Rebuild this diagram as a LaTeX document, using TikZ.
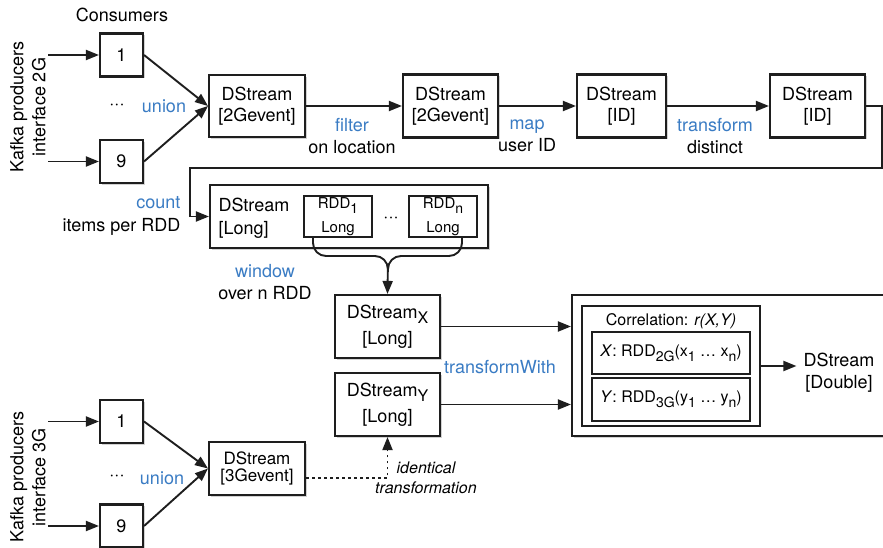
\documentclass[tikz,border=0pt]{standalone}
\usepackage{fontspec}
\setmainfont{TeX Gyre Heros}
\usepackage{xcolor}
\usepackage{tikz}
\usetikzlibrary{shapes, arrows.meta, shadows}
\definecolor{opblue}{RGB}{58,124,196}
\definecolor{edge}{RGB}{30,30,30}
\tikzstyle{stream} = [rectangle, draw=edge, line width=2.1pt, fill=white, align=center, inner sep=0pt,
    drop shadow={shadow xshift=1.8pt, shadow yshift=-1.8pt, opacity=0.35}, font=\fontsize{18}{21}\selectfont]
\tikzstyle{consumer} = [stream, minimum width=43pt, minimum height=43pt]
\tikzstyle{rdd} = [rectangle, draw=edge, line width=1.5pt, fill=white, align=center, inner sep=0pt, font=\fontsize{15}{24}\selectfont]
\tikzstyle{arrow} = [line width=1.9pt, draw=edge, -{Triangle[length=13pt,width=10pt]}]
\tikzstyle{link} = [line width=1.9pt, draw=edge]
\tikzstyle{op} = [align=center, font=\fontsize{18}{22}\selectfont]
\newcommand{\opname}[1]{\textcolor{opblue}{#1}}
\newcommand{\lowsub}[2][14]{\raisebox{-5pt}{\fontsize{#1}{#1}\selectfont #2}}

\begin{document}
\begin{tikzpicture}[x=1pt, y=-1pt]
\fill [white] (0,0) rectangle (883,548);
\useasboundingbox (0,0) rectangle (883,548);

% 2G input
\node (cons) [op] at (122,15) {Consumers};
\node (kafka2g) [op, rotate=90] at (28,107) {Kafka producers\\interface 2G};
\node (c2g1) [consumer] at (121.5,55) {1};
\node (c2g9) [consumer] at (121.5,161.5) {9};
\node (dots2g) [op] at (117,107) {···};
\node (union2g) [op, text=opblue] at (164,106) {union};
\coordinate (p2g1) at (48,55);
\coordinate (p2g9) at (48,161.5);

\node (ds2g) [stream, minimum width=96pt, minimum height=62pt] at (257,106) {DStream\\{[2Gevent]}};
\node (ds2gf) [stream, minimum width=95pt, minimum height=63pt] at (450.5,106) {DStream\\{[2Gevent]}};
\node (dsid) [stream, minimum width=89pt, minimum height=63pt] at (621.5,106) {DStream\\{[ID]}};
\node (dsdist) [stream, minimum width=95pt, minimum height=63pt] at (817.5,106) {DStream\\{[ID]}};

\node (filter) [op] at (352,136) {\opname{filter}\\on location};
\node (map) [op] at (527,136) {\opname{map}\\user ID};
\node (transf) [op] at (715,136) {\opname{transform}\\distinct};

\draw [arrow] (p2g1) -- (c2g1);
\draw [arrow] (p2g9) -- (c2g9);
\draw [arrow] (c2g1.east) -- (ds2g.west);
\draw [arrow] (c2g9.east) -- (ds2g.west);
\draw [arrow] (ds2g) -- (ds2gf);
\draw [arrow] (ds2gf) -- (dsid);
\draw [arrow] (dsid) -- (dsdist);

% counting and windowing
\node (dscount) [stream, minimum width=278pt, minimum height=63pt] at (349,216.5) {};
\node (countlbl) [anchor=west, align=left, font=\fontsize{18}{23}\selectfont] at (215,218) {DStream\\{[Long]}};
\node (rdd1) [rdd, minimum width=68pt, minimum height=41pt] at (338,216.5) {RDD\lowsub[14]{1}\\Long};
\node (rdddots) [op] at (391,220) {···};
\node (rddn) [rdd, minimum width=68pt, minimum height=41pt] at (443,216.5) {RDD\lowsub[14]{n}\\Long};
\node (countop) [op, anchor=east, align=right, font=\fontsize{18}{23}\selectfont] at (184,216) {\opname{count}\\items per RDD};

\coordinate (turn1) at (882,168);
\coordinate (turn2) at (190,168);
\draw [arrow] (dsdist.east) -| (turn1) -- (turn2) |- (dscount.west);

\node (dsx) [stream, minimum width=105pt, minimum height=63pt, font=\fontsize{18}{26}\selectfont] at (387.5,326.5) {DStream\lowsub[16]{X}\\{[Long]}};
\node (dsy) [stream, minimum width=105pt, minimum height=63pt, font=\fontsize{18}{26}\selectfont] at (387.5,404.5) {DStream\lowsub[16]{Y}\\{[Long]}};
\node (window) [op] at (265,282) {\opname{window}\\over n RDD};

\coordinate (brl) at (313,237);
\coordinate (brr) at (462,237);
\coordinate (brm) at (388,256);
\coordinate (brc) at (388,272);
\draw [link, rounded corners=13pt] (brr) |- (brm) -- (brc);
\draw [arrow, rounded corners=13pt] (brl) |- (brm) -- (dsx.north);

% correlation
\node (corrbox) [stream, minimum width=330pt, minimum height=141pt] at (737,365.5) {};
\node (corr) [rdd, minimum width=178pt, minimum height=120pt] at (671,366) {};
\node (corrtitle) [font=\fontsize{16}{18}\selectfont] at (671,321) {Correlation: \textit{r(X,Y)}};
\node (xrdd) [rdd, minimum width=158pt, minimum height=42pt, font=\fontsize{16}{18}\selectfont] at (671,353)
    {\textit{X}: RDD\lowsub[14]{2G}(x\lowsub[14]{1} … x\lowsub[14]{n})};
\node (yrdd) [rdd, minimum width=158pt, minimum height=43pt, font=\fontsize{16}{18}\selectfont] at (671,399.5)
    {\textit{Y}: RDD\lowsub[14]{3G}(y\lowsub[14]{1} … y\lowsub[14]{n})};
\node (dsdouble) [op, inner sep=7pt] at (839,373) {DStream\\{[Double]}};
\node (twith) [op, text=opblue] at (500,367) {transformWith};

\draw [arrow] (dsx.east) -- (dsx.east -| corrbox.west);
\draw [arrow] (dsy.east) -- (dsy.east -| corrbox.west);
\draw [arrow] (corr.east) -- (corr.east -| dsdouble.west);

% 3G input
\node (kafka3g) [op, rotate=90] at (28,477) {Kafka producers\\interface 3G};
\node (c3g1) [consumer] at (121.5,421.5) {1};
\node (c3g9) [consumer] at (121.5,526) {9};
\node (dots3g) [op] at (117,478) {···};
\node (union3g) [op, text=opblue] at (162,478) {union};
\coordinate (p3g1) at (48,421.5);
\coordinate (p3g9) at (48,526);
\node (ds3g) [stream, minimum width=96pt, minimum height=53pt, font=\fontsize{17}{17}\selectfont] at (257,468.5) {DStream\\{[3Gevent]}};
\node (ident) [align=center, font=\fontsize{16}{20}\selectfont\itshape] at (426,478) {identical\\transformation};

\draw [arrow] (p3g1) -- (c3g1);
\draw [arrow] (p3g9) -- (c3g9);
\draw [arrow] (c3g1.east) -- (ds3g.west);
\draw [arrow] (c3g9.east) -- (ds3g.west);
\draw [arrow, dash pattern=on 2.5pt off 3.5pt] ([yshift=-9.5pt]ds3g.east) -| (dsy.south);

\end{tikzpicture}
\end{document}
